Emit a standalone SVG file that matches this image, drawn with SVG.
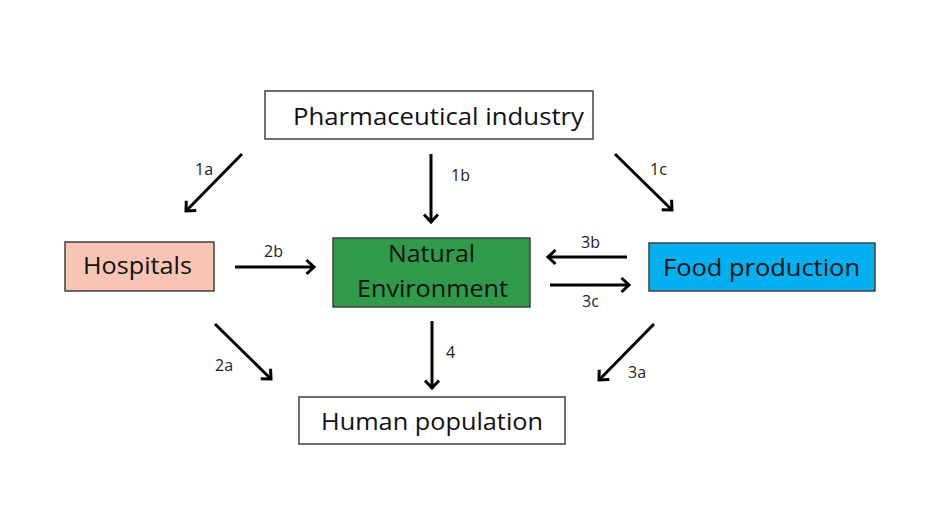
<svg xmlns="http://www.w3.org/2000/svg" width="940" height="529" viewBox="0 0 940 529">
  <style>
    .box { stroke: #404040; stroke-width: 1.5; }
    .main { font-family: "Open Sans", "Liberation Sans", sans-serif; font-size: 24px; fill: #111; }
    .lbl { font-family: "Open Sans", "Liberation Sans", sans-serif; font-size: 16px; fill: #222; }
    .arr { stroke: #000; stroke-width: 3; fill: none; marker-end: url(#head); }
  </style>
  <defs>
    <marker id="head" markerUnits="userSpaceOnUse" markerWidth="20" markerHeight="20" viewBox="-10 -10 20 20" refX="0" refY="0" orient="auto">
      <path d="M-7.5,-7 L0,0 L-7.5,7" fill="none" stroke="#000" stroke-width="3" stroke-linejoin="miter"/>
    </marker>
  </defs>
  <rect width="940" height="529" fill="#fff"/>

  <g id="pharma">
    <rect class="box" x="265" y="91" width="328" height="48" fill="#fff"/>
    <text class="main" x="293" y="125" textLength="291" lengthAdjust="spacingAndGlyphs">Pharmaceutical industry</text>
  </g>
  <g id="hospitals">
    <rect class="box" x="65" y="242" width="149" height="49" fill="#F8C4B4"/>
    <text class="main" x="83" y="274" textLength="109" lengthAdjust="spacingAndGlyphs">Hospitals</text>
  </g>
  <g id="natural">
    <rect class="box" x="333" y="238" width="197" height="69" fill="#2F9A48"/>
    <text class="main" x="388" y="262" textLength="87" lengthAdjust="spacingAndGlyphs">Natural</text>
    <text class="main" x="357" y="297" textLength="151" lengthAdjust="spacingAndGlyphs">Environment</text>
  </g>
  <g id="food">
    <rect class="box" x="649" y="243" width="226" height="48" fill="#00B0F0"/>
    <text class="main" x="663" y="276" textLength="197" lengthAdjust="spacingAndGlyphs">Food production</text>
  </g>
  <g id="human">
    <rect class="box" x="299" y="397" width="266" height="47" fill="#fff"/>
    <text class="main" x="321" y="430" textLength="222" lengthAdjust="spacingAndGlyphs">Human population</text>
  </g>

  <g id="connectors">
    <line class="arr" x1="242" y1="154" x2="186" y2="211"/>
    <line class="arr" x1="431" y1="154" x2="431" y2="222"/>
    <line class="arr" x1="615" y1="154" x2="672" y2="210"/>
    <line class="arr" x1="235" y1="267" x2="314" y2="267"/>
    <line class="arr" x1="627" y1="257" x2="548" y2="257"/>
    <line class="arr" x1="550" y1="285" x2="629" y2="285"/>
    <line class="arr" x1="215" y1="324" x2="271" y2="379"/>
    <line class="arr" x1="432" y1="321" x2="432" y2="388"/>
    <line class="arr" x1="654" y1="324" x2="599" y2="380"/>
    <text class="lbl" x="195" y="175">1a</text>
    <text class="lbl" x="451" y="181">1b</text>
    <text class="lbl" x="650" y="175">1c</text>
    <text class="lbl" x="264" y="257">2b</text>
    <text class="lbl" x="581" y="248">3b</text>
    <text class="lbl" x="582" y="307">3c</text>
    <text class="lbl" x="215" y="371">2a</text>
    <text class="lbl" x="446" y="358">4</text>
    <text class="lbl" x="628" y="378">3a</text>
  </g>
</svg>
